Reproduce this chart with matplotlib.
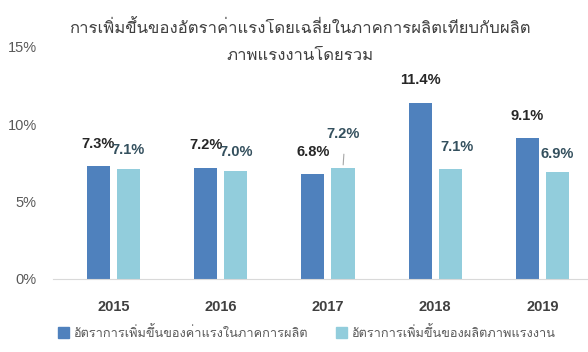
import numpy as np
import matplotlib
matplotlib.use('Agg')
import matplotlib.pyplot as plt
from matplotlib.patches import Patch

# ฟอนต์: ตัวเลขใช้ Liberation Sans, ตัวอักษรไทยตกไปที่ Loma
plt.rcParams['font.family'] = ['Liberation Sans', 'Loma', 'DejaVu Sans']

years = ['2015', '2016', '2017', '2018', '2019']
wage_growth = [7.3, 7.2, 6.8, 11.4, 9.1]          # ค่าแรงในภาคการผลิต
productivity_growth = [7.1, 7.0, 7.2, 7.1, 6.9]   # ผลิตภาพแรงงาน
yticks = [0, 5, 10, 15]

title = 'การเพิ่มขึ้นของอัตราค่าแรงโดยเฉลี่ยในภาคการผลิตเทียบกับผลิต\nภาพแรงงานโดยรวม'
label_wage = 'อัตราการเพิ่มขึ้นของค่าแรงในภาคการผลิต'
label_prod = 'อัตราการเพิ่มขึ้นของผลิตภาพแรงงาน'

c_dark = '#4F81BD'
c_light = '#92CDDC'

fig = plt.figure(figsize=(5.88, 3.52), dpi=100)
ax = fig.add_axes([0.090, 0.2074, 0.910, 0.6591])

x = np.arange(len(years))
w = 0.215
off = 0.14
ax.bar(x - off, wage_growth, w, color=c_dark)
ax.bar(x + off, productivity_growth, w, color=c_light)

ax.set_xlim(-0.564, 4.424)
ax.set_ylim(0, 15)
ax.set_yticks(yticks)
ax.set_yticklabels([f'{t}%' for t in yticks], color='#595959', fontsize=10.5)
ax.set_xticks(x)
ax.set_xticklabels(years, fontweight='bold', color='#404040', fontsize=10.5)
ax.tick_params(axis='y', length=0, pad=11.5)
ax.tick_params(axis='x', length=0, pad=15)
for s in ['top', 'right', 'left']:
    ax.spines[s].set_visible(False)
ax.spines['bottom'].set_color('#D9D9D9')
ax.spines['bottom'].set_linewidth(0.8)

# ป้ายข้อมูล
for i, v in enumerate(wage_growth):
    ax.annotate(f'{v:.1f}%', (x[i] - off, v), xytext=(0, 16), textcoords='offset points',
                ha='center', va='center', fontsize=10.5, fontweight='bold', color='#262626')
for i, v in enumerate(productivity_growth):
    dy, dx = 13.5, 0
    if i == 2:
        dy = 24
    if i == 3:
        dx, dy = 5, 16
    ax.annotate(f'{v:.1f}%', (x[i] + off, v), xytext=(dx, dy), textcoords='offset points',
                ha='center', va='center', fontsize=10.5, fontweight='bold', color='#34505E')
# เส้นนำของปี 2017
ax.annotate('', (x[2] + off, productivity_growth[2]), xytext=(x[2] + off + 0.01, productivity_growth[2] + 1.05),
            arrowprops=dict(arrowstyle='-', color='#A6A6A6', lw=0.8))

fig.text(0.51, 0.884, title, ha='center', va='center', fontsize=12, color='#404040',
         linespacing=2.05)

handles = [Patch(color=c_dark, label=label_wage), Patch(color=c_light, label=label_prod)]
fig.legend(handles=handles, loc='center', bbox_to_anchor=(0.521, 0.055), ncol=2, frameon=False,
           fontsize=9.2, handlelength=0.9, handleheight=0.9, handletextpad=0.3, columnspacing=2.2,
           labelcolor='#595959')

fig.savefig('out.png', dpi=100)
